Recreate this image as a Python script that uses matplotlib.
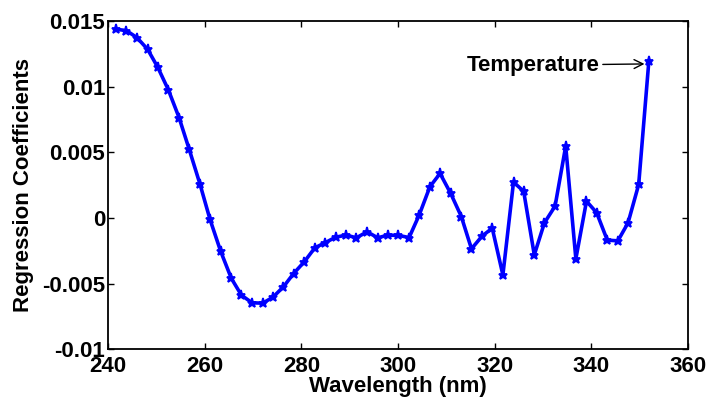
import matplotlib
matplotlib.use("Agg")
import matplotlib.pyplot as plt
from matplotlib.ticker import FuncFormatter

plt.rcParams['font.family'] = ['Liberation Sans', 'DejaVu Sans']
plt.rcParams['font.weight'] = 'bold'
plt.rcParams['axes.unicode_minus'] = False

# wavelengths (nm); the final entry is the temperature variable
wavelength = [241.7, 243.8, 246.0, 248.2, 250.3, 252.5, 254.7, 256.8, 259.0, 261.1,
              263.3, 265.5, 267.6, 269.8, 272.0, 274.1, 276.3, 278.4, 280.6, 282.8,
              284.9, 287.1, 289.3, 291.4, 293.6, 295.8, 297.9, 300.1, 302.3, 304.4,
              306.6, 308.7, 310.9, 313.1, 315.2, 317.4, 319.5, 321.7, 323.9, 326.0,
              328.2, 330.3, 332.5, 334.7, 336.8, 339.0, 341.1, 343.3, 345.5, 347.6,
              349.8, 351.9]

coefficients = [0.01437, 0.01427, 0.01373, 0.01284, 0.01147, 0.00974, 0.00764, 0.00522,
                0.00261, -0.00011, -0.00253, -0.00459, -0.00588, -0.00646, -0.00649,
                -0.00604, -0.00524, -0.00423, -0.00334, -0.00227, -0.00189, -0.00146,
                -0.00131, -0.00151, -0.00105, -0.00151, -0.00131, -0.00133, -0.00149,
                0.00024, 0.00238, 0.00339, 0.00187, 0.00011, -0.00235, -0.00138,
                -0.00078, -0.00434, 0.00273, 0.00203, -0.00281, -0.00037, 0.0009,
                0.00547, -0.00311, 0.00128, 0.0004, -0.00169, -0.00174, -0.00037,
                0.00255, 0.01193]

x_ticks = [240, 260, 280, 300, 320, 340, 360]
y_ticks = [-0.01, -0.005, 0, 0.005, 0.01, 0.015]

fig = plt.figure(figsize=(7.07, 4.0), dpi=100)
ax = fig.add_axes([0.1528, 0.1268, 0.8203, 0.8207])

ax.plot(wavelength, coefficients, color='#0000ff', lw=2.6, marker='*',
        markersize=6.5, markeredgewidth=1.3)

ax.set_xlim(240, 360)
ax.set_ylim(-0.01, 0.015)
ax.set_xticks(x_ticks)
ax.set_yticks(y_ticks)
ax.yaxis.set_major_formatter(FuncFormatter(lambda v, p: '%g' % v))

ax.tick_params(direction='in', length=4, width=1, top=True, right=True,
               labelsize=16)
ax.tick_params(axis='x', pad=5)
ax.tick_params(axis='y', pad=2)
for lab in ax.get_xticklabels() + ax.get_yticklabels():
    lab.set_fontweight('bold')
for s in ax.spines.values():
    s.set_linewidth(1.3)

ax.set_xlabel('Wavelength (nm)', fontsize=16, fontweight='bold', labelpad=-1)
ax.set_ylabel('Regression Coefficients', fontsize=16, fontweight='bold', labelpad=6)

ax.annotate('Temperature', xy=(wavelength[-1] - 0.9, coefficients[-1] - 0.0002),
            xytext=(341.8, coefficients[-1] - 0.0003), ha='right', va='center',
            fontsize=16, fontweight='bold',
            arrowprops=dict(arrowstyle='->', color='black', lw=1,
                            shrinkA=0, shrinkB=0))

fig.savefig('out.png', dpi=100)
